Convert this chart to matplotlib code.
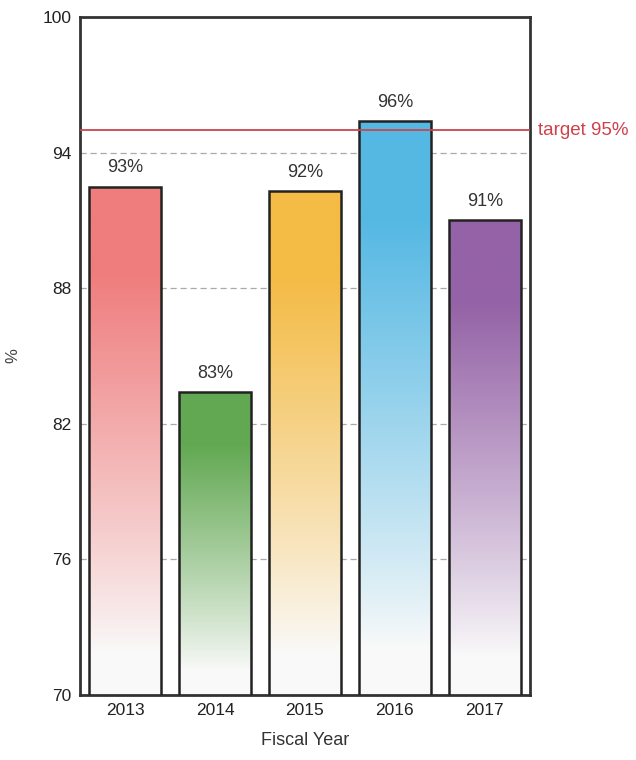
import numpy as np
import matplotlib
matplotlib.use("Agg")
import matplotlib.pyplot as plt
from matplotlib.colors import to_rgb

years = ["2013", "2014", "2015", "2016", "2017"]
values = [92.5, 83.4, 92.3, 95.4, 91.0]
value_labels = ["93%", "83%", "92%", "96%", "91%"]
bar_colors = ["#ef7d7d", "#62a852", "#f4bb45", "#55b8e3", "#9462a6"]
target = 95
y_ticks = [70, 76, 82, 88, 94, 100]

plt.rcParams["font.family"] = ["Liberation Sans", "DejaVu Sans"]

fig = plt.figure(figsize=(6.36, 7.6), dpi=100)
ax = fig.add_axes([0.126, 0.0855, 0.707, 0.892])

x = np.arange(len(years))
bars = ax.bar(x, values, width=0.8, bottom=0, color="none",
              edgecolor="#222222", linewidth=1.8, zorder=3)

ax.set_xlim(-0.5, len(years) - 0.5)
ax.set_ylim(70, 100)

# vertical gradient: colour at the top fading to white at the bottom
for bar, col in zip(bars, bar_colors):
    rgb = np.array(to_rgb(col))
    t = np.linspace(0, 1, 256)[:, None]  # 0 bottom -> 1 top
    w = np.clip((t - 0.08) / 0.75, 0, 1) ** 0.9
    img = (1 - w)[..., None] * np.array([0.98, 0.98, 0.98]) + w[..., None] * rgb
    img = np.repeat(img, 2, axis=1)
    bx, bw = bar.get_x(), bar.get_width()
    im = ax.imshow(img, origin="lower", aspect="auto",
                   extent=[bx, bx + bw, 70, bar.get_height()], zorder=2)
    im.set_clip_path(bar)

for xi, v, lab in zip(x, values, value_labels):
    ax.text(xi, v + 0.45, lab, ha="center", va="bottom", fontsize=13, color="#333333")

ax.set_yticks(y_ticks)
ax.yaxis.grid(True, linestyle=(0, (5, 3)), color="#aaaaaa", linewidth=0.9, zorder=0)
ax.set_axisbelow(True)
ax.tick_params(length=0, labelsize=12.5, colors="#222222", pad=6)
ax.set_xticks(x)
ax.set_xticklabels(years)

ax.axhline(target, color="#c8454f", linewidth=1.3, zorder=4)
ax.text(1.018, target, f"target {target}%", transform=ax.get_yaxis_transform(),
        color="#d0404c", fontsize=13.5, va="center", ha="left")

for s in ax.spines.values():
    s.set_linewidth(2)
    s.set_color("#333333")

ax.set_ylabel("%", fontsize=12, color="#444444", labelpad=16)
ax.set_xlabel("Fiscal Year", fontsize=13, color="#333333", labelpad=10)

fig.savefig("out.png", dpi=100)
